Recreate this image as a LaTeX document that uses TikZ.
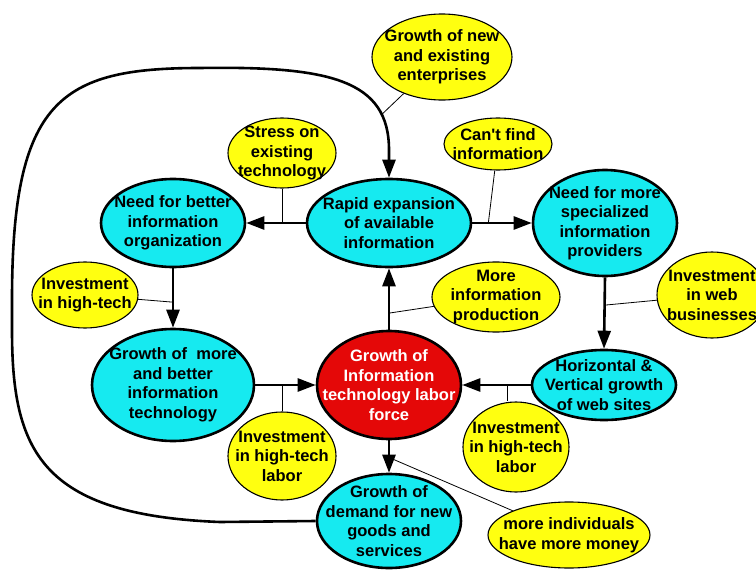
\documentclass[tikz,border=0pt]{standalone}
\usepackage{fontspec}
\setmainfont{Liberation Sans}
\usetikzlibrary{shapes.geometric,arrows.meta,calc}
\definecolor{cyanc}{RGB}{22,234,240}
\definecolor{yel}{RGB}{255,255,16}
\definecolor{redc}{RGB}{228,8,8}
\begin{document}
\begin{tikzpicture}[x=1pt,y=-1pt,
  main/.style={ellipse, draw=black, line width=2.6pt, fill=cyanc, inner sep=0pt},
  side/.style={ellipse, draw=black, line width=1.1pt, fill=yel, inner sep=0pt},
  txt/.style={align=center, inner sep=0pt, font=\bfseries\fontsize{16.5}{19.5}\selectfont},
  wtxt/.style={txt, text=white},
  arr/.style={line width=2.6pt, -{Triangle[length=18pt,width=13pt]}},
  link/.style={line width=0.8pt}]
\useasboundingbox (0,0) rectangle (756,570);
\clip (0,0) rectangle (756,570);
\fill[white] (0,0) rectangle (756,570);

% main (cyan) nodes
\node[main, minimum width=164pt, minimum height=88pt,
  label={[txt]center:{Rapid expansion\\of available\\information}}] (rapid) at (389,223) {};
\node[main, minimum width=144pt, minimum height=88pt,
  label={[txt]center:{Need for better\\information\\organization}}] (better) at (173,223) {};
\node[main, minimum width=144pt, minimum height=106pt,
  label={[txt]center:{Need for more\\specialized\\information\\providers}}] (special) at (605,223) {};
\node[main, minimum width=162pt, minimum height=112pt,
  label={[txt]center:{Growth of \ more\\and better\\information\\technology}}] (techgrowth) at (173,385) {};
\node[main, fill=redc, minimum width=144pt, minimum height=108pt,
  label={[wtxt]center:{Growth of\\Information\\technology labor\\force}}] (labor) at (389,385) {};
\node[main, minimum width=144pt, minimum height=70pt,
  label={[txt]center:{Horizontal \&\\Vertical growth\\of web sites}}] (web) at (604,385) {};
\node[main, minimum width=144pt, minimum height=94pt,
  label={[txt]center:{Growth of\\demand for new\\goods and\\services}}] (demand) at (389,521) {};

% side (yellow) nodes
\node[side, minimum width=140pt, minimum height=86pt,
  label={[txt]center:{Growth of new\\and existing\\enterprises}}] (enterprises) at (442,57) {};
\node[side, minimum width=108pt, minimum height=70pt,
  label={[txt]center:{Stress on\\existing\\technology}}] (stress) at (282,153) {};
\node[side, minimum width=108pt, minimum height=52pt,
  label={[txt]center:{Can\textquotesingle t find\\information}}] (cantfind) at (498,144) {};
\node[side, minimum width=106pt, minimum height=66pt,
  label={[txt]center:{Investment\\in high-tech}}] (invleft) at (85,295) {};
\node[side, minimum width=128pt, minimum height=70pt,
  label={[txt]center:{More\\information\\production}}] (moreinfo) at (496,297) {};
\node[side, minimum width=110pt, minimum height=86pt,
  label={[txt]center:{Investment\\in web\\businesses}}] (webbiz) at (712,295) {};
\node[side, minimum width=108pt, minimum height=88pt,
  label={[txt]center:{Investment\\in high-tech\\labor}}] (invmid) at (282,456) {};
\node[side, minimum width=106pt, minimum height=90pt,
  label={[txt]center:{Investment\\in high-tech\\labor}}] (invright) at (516,447) {};
\node[side, minimum width=162pt, minimum height=66pt,
  label={[txt]center:{more individuals\\have more money}}] (money) at (569,535) {};

% main arrows
\draw[arr] (rapid.west) -- (better.east);
\draw[arr] (rapid.east) -- (special.west);
\draw[arr] (better.south) -- (techgrowth.north);
\draw[arr] (techgrowth.east) -- (labor.west);
\draw[arr] (labor.north) -- (rapid.south);
\draw[arr] (special.south) -- (web.north);
\draw[arr] (web.west) -- (labor.east);
\draw[arr] (labor.south) -- (demand.north);
\draw[arr] (demand.west) -- (220,522)
  .. controls (40,515) and (12,450) .. (12,330) -- (12,300)
  .. controls (12,100) and (60,68) .. (200,68)
  .. controls (330,66) and (389,80) .. (389,150) coordinate[pos=0.8] (loopP)
  -- (rapid.north);

% link points on arrows
\coordinate (cf) at ($(rapid.east)!0.27!(special.west)$);
\coordinate (pm) at ($(labor.north)!0.27!(rapid.south)$);
\coordinate (il) at ($(better.south)!0.57!(techgrowth.north)$);
\coordinate (wb) at ($(special.south)!0.39!(web.north)$);
\coordinate (ir) at ($(web.west)!0.34!(labor.east)$);
\coordinate (mi) at ($(labor.south)!0.53!(demand.north)$);

% thin links
\draw[link] (loopP) -- (enterprises);
\draw[link] (stress.south) -- (stress.south |- rapid.west);
\draw[link] (cf) -- (cantfind);
\draw[link] (il) -- (invleft);
\draw[link] (pm) -- (moreinfo);
\draw[link] (wb) -- (webbiz);
\draw[link] (invmid.north) -- (invmid.north |- techgrowth.east);
\draw[link] (ir) -- (ir |- invright.north);
\draw[link] (mi) -- (money);
\end{tikzpicture}
\end{document}
